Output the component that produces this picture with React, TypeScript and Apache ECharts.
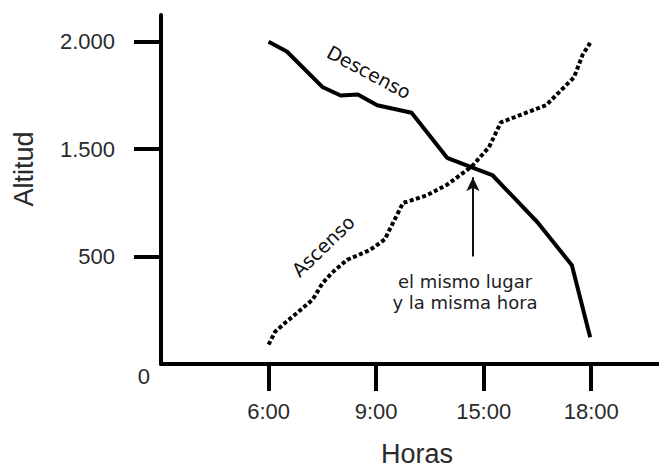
import React, { useEffect, useRef } from "react";
import * as echarts from "echarts";

// x positions: 1 = 6:00, 2 = 9:00, 3 = 15:00, 4 = 18:00 (evenly spaced ticks)
const xTickValues = [1, 2, 3, 4];
const xTickLabels = ["6:00", "9:00", "15:00", "18:00"];
// y positions: 1 = 500, 2 = 1.500, 3 = 2.000 (evenly spaced ticks)
const yTickValues = [1, 2, 3];
const yTickLabels = ["500", "1.500", "2.000"];

const descensoX = [1.0, 1.17, 1.5, 1.67, 1.83, 2.01, 2.33, 2.66, 2.89, 3.08, 3.5, 3.82, 3.99];
const descensoY = [3.0, 2.91, 2.58, 2.5, 2.51, 2.41, 2.34, 1.92, 1.83, 1.76, 1.32, 0.92, 0.25];

const ascensoX = [1.0, 1.06, 1.15, 1.27, 1.41, 1.5, 1.59, 1.73, 1.94, 2.08, 2.16, 2.25, 2.47, 2.66, 2.89, 3.05, 3.16, 3.58, 3.84, 3.92, 3.99];
const ascensoY = [0.18, 0.3, 0.38, 0.48, 0.6, 0.75, 0.85, 0.97, 1.06, 1.16, 1.32, 1.5, 1.57, 1.67, 1.84, 2.02, 2.25, 2.41, 2.67, 2.88, 2.99];

const arrowX = 2.9;
const arrowFromY = 1.0;
const arrowToY = 1.74;

export default function App() {
  const ref = useRef<HTMLDivElement>(null);
  useEffect(() => {
    if (!ref.current) return;
    const chart = echarts.init(ref.current, null, { renderer: "svg" });
    const tickFont = "Liberation Sans";
    const annFont = "DejaVu Sans";
    chart.setOption({
      animation: false,
      backgroundColor: "#fff",
      grid: { left: 161, right: 0, top: 15, bottom: 104, containLabel: false },
      xAxis: {
        type: "value",
        min: 0,
        max: 4.63,
        splitLine: { show: false },
        axisLine: { show: true, lineStyle: { color: "#000", width: 4 } },
        axisTick: {
          show: true,
          customValues: xTickValues,
          length: 27,
          lineStyle: { color: "#000", width: 4 },
        },
        axisLabel: {
          customValues: xTickValues,
          margin: 36,
          fontSize: 22,
          fontWeight: "normal",
          fontFamily: tickFont,
          color: "#2a2a2a",
          formatter: (v: number) => xTickLabels[xTickValues.indexOf(Math.round(v))] ?? "",
        },
      },
      yAxis: {
        type: "value",
        min: 0,
        max: 3.25,
        splitLine: { show: false },
        axisLine: { show: true, lineStyle: { color: "#000", width: 4 } },
        axisTick: {
          show: true,
          customValues: yTickValues,
          length: 27,
          lineStyle: { color: "#000", width: 4 },
        },
        axisLabel: {
          customValues: yTickValues,
          margin: 46,
          align: "right",
          fontSize: 22,
          fontWeight: "normal",
          fontFamily: tickFont,
          color: "#2a2a2a",
          formatter: (v: number) => yTickLabels[yTickValues.indexOf(Math.round(v))] ?? "",
        },
      },
      series: [
        {
          type: "line",
          name: "Descenso",
          data: descensoX.map((x, i) => [x, descensoY[i]]),
          showSymbol: false,
          symbol: "none",
          lineStyle: { color: "#000", width: 4, join: "round" },
          markLine: {
            silent: true,
            symbol: ["none", "arrow"],
            symbolSize: [10, 14],
            label: { show: false },
            lineStyle: { color: "#111", width: 2, type: "solid" },
            data: [
              [
                { coord: [arrowX, arrowFromY] },
                { coord: [arrowX, arrowToY] },
              ],
            ],
          },
        },
        {
          type: "line",
          name: "Ascenso",
          data: ascensoX.map((x, i) => [x, ascensoY[i]]),
          showSymbol: false,
          symbol: "none",
          lineStyle: { color: "#000", width: 4, type: [4, 2.5], cap: "butt" },
        },
      ],
      graphic: [
        {
          type: "text",
          x: 150,
          y: 376,
          style: {
            text: "0",
            fontSize: 22,
            fontFamily: tickFont,
            fill: "#2a2a2a",
            align: "right",
            verticalAlign: "middle",
          },
        },
        {
          type: "text",
          x: 24,
          y: 169,
          rotation: Math.PI / 2,
          style: {
            text: "Altitud",
            fontSize: 27,
            fontFamily: tickFont,
            fill: "#2a2a2a",
            align: "center",
            verticalAlign: "middle",
          },
        },
        {
          type: "text",
          x: 417,
          y: 454,
          style: {
            text: "Horas",
            fontSize: 27,
            fontFamily: tickFont,
            fill: "#2a2a2a",
            align: "center",
            verticalAlign: "middle",
          },
        },
        {
          type: "text",
          x: 369,
          y: 72,
          rotation: (-28 * Math.PI) / 180,
          style: {
            text: "Descenso",
            fontSize: 19,
            fontFamily: annFont,
            fill: "#111",
            align: "center",
            verticalAlign: "middle",
          },
        },
        {
          type: "text",
          x: 323,
          y: 246,
          rotation: (44 * Math.PI) / 180,
          style: {
            text: "Ascenso",
            fontSize: 19,
            fontFamily: annFont,
            fill: "#111",
            align: "center",
            verticalAlign: "middle",
          },
        },
        {
          type: "text",
          x: 465,
          y: 281,
          style: {
            text: "el mismo lugar",
            fontSize: 18,
            fontFamily: annFont,
            fill: "#222",
            align: "center",
            verticalAlign: "middle",
          },
        },
        {
          type: "text",
          x: 465,
          y: 302,
          style: {
            text: "y la misma hora",
            fontSize: 18,
            fontFamily: annFont,
            fill: "#222",
            align: "center",
            verticalAlign: "middle",
          },
        },
      ],
    });
    return () => chart.dispose();
  }, []);
  return (
    <div
      ref={ref}
      style={{ position: "fixed", left: 0, top: 0, width: 659, height: 468 }}
    />
  );
}
